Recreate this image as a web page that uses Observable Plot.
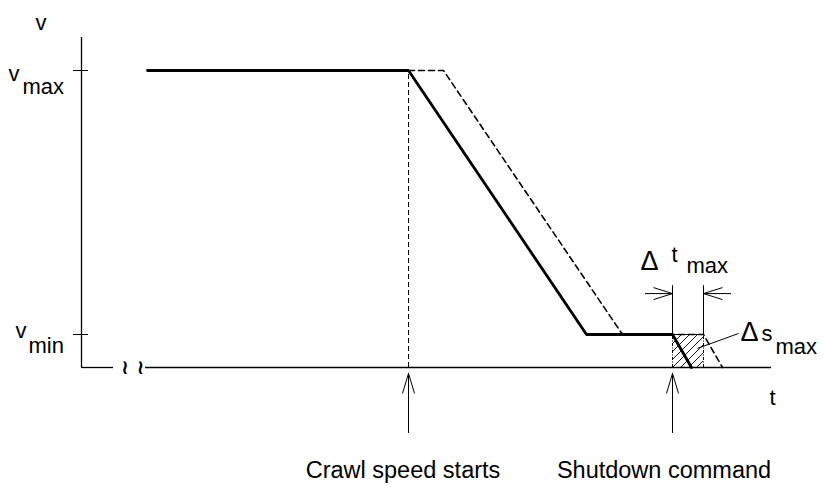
<!DOCTYPE html>
<html>
<head>
<meta charset="utf-8">
<script src="https://cdn.jsdelivr.net/npm/d3@7"></script>
<script src="https://cdn.jsdelivr.net/npm/@observablehq/plot@0.6"></script>
<style>
  html, body { margin: 0; padding: 0; background: #fff; color: #000; }
  svg { display: block; }
</style>
</head>
<body>
<div id="chart"></div>
<script>
// ---- data (abstract time / speed units) ----
const vMax = 90;
const vMin = 10;
const tCrawl = 65.4;       // crawl speed starts
const tShutdown = 118.2;   // shutdown command
const dtMax = 6.2;         // Δt max window

// actual (solid) speed profile
const actualT = [13.2, 65.4, 101, 118.2, 122];
const actualV = [vMax, vMax, vMin, vMin, 0];

// delayed (dashed) speed profile
const delayedT = [65.4, 72.4, 108.2, 124.4, 128.2];
const delayedV = [vMax, vMax, vMin, vMin, 0];

const yTickValues = [vMin, vMax];
const eventTimes = [tCrawl, tShutdown];
const eventLabels = ["Crawl speed starts", "Shutdown command"];

const actual = actualT.map((t, i) => ({t, v: actualV[i]}));
const delayed = delayedT.map((t, i) => ({t, v: delayedV[i]}));
const events = eventTimes.map((t, i) => ({t, label: eventLabels[i]}));

const font = "'Liberation Sans', Arial, Helvetica, sans-serif";
const fs = 22;

// open arrowhead (chevron) with its tip at the anchor point, pointing up
const chevron = (len, half) => ({
  draw(context) {
    context.moveTo(-half, len);
    context.lineTo(0, 0);
    context.lineTo(half, len);
  }
});
const headEvent = chevron(20, 6);
const headDt = chevron(19, 6);

const txt = (s, x, y, dx, dy, size = fs) =>
  Plot.text([s], {x: () => x, y: () => y, text: d => d, dx, dy, fontSize: size, textAnchor: "start", lineAnchor: "bottom"});

const chart = Plot.plot({
  width: 823,
  height: 489,
  marginLeft: 81,
  marginRight: 52,
  marginTop: 37,
  marginBottom: 122,
  x: {domain: [0, 138], axis: null},
  y: {domain: [0, 100], axis: null},
  style: {fontFamily: font, background: "white", color: "black"},
  marks: [
    // hatched Δs area
    Plot.rect([0], {x1: tShutdown, x2: tShutdown + dtMax, y1: 0, y2: vMin, fill: "url(#hatch)"}),
    Plot.ruleX([tShutdown, tShutdown + dtMax], {y1: 0, y2: vMin, stroke: "black", strokeWidth: 1, strokeDasharray: "3,1.5,1,1.5"}),
    Plot.ruleY([vMin], {x1: tShutdown, x2: tShutdown + dtMax, stroke: "black", strokeWidth: 1}),
    // axes
    Plot.ruleX([0], {y1: 0, y2: 100, stroke: "black", strokeWidth: 1.3}),
    Plot.ruleY([0], {x1: 0, x2: 6.4, stroke: "black", strokeWidth: 1.3}),
    Plot.ruleY([0], {x1: 12.8, x2: 138, stroke: "black", strokeWidth: 1.3}),
    Plot.text(["≀", "≀"], {x: (d, i) => [8.7, 11.8][i], y: 0, text: d => d, fontSize: 20, fontFamily: "DejaVu Sans", fontWeight: "bold"}),
    Plot.ruleY(yTickValues, {x1: -1.6, x2: 1.4, stroke: "black", strokeWidth: 1}),
    // crawl speed start marker
    Plot.ruleX([tCrawl], {y1: 0, y2: vMax, stroke: "black", strokeWidth: 1, strokeDasharray: "5,3"}),
    // delayed profile
    Plot.line(delayed, {x: "t", y: "v", stroke: "black", strokeWidth: 1.6, strokeDasharray: "6,4"}),
    // actual profile
    Plot.line(actual, {x: "t", y: "v", stroke: "black", strokeWidth: 2.8, strokeLinejoin: "miter"}),
    // Δt brackets
    Plot.ruleX([tShutdown, tShutdown + dtMax], {y1: vMin, y2: 24.8, stroke: "black", strokeWidth: 1}),
    Plot.ruleY([22.4], {x1: tShutdown - 5.4, x2: tShutdown, stroke: "black", strokeWidth: 1}),
    Plot.ruleY([22.4], {x1: tShutdown + dtMax, x2: tShutdown + dtMax + 5.6, stroke: "black", strokeWidth: 1}),
    Plot.dot([0], {x: () => tShutdown, y: () => 22.4, symbol: headDt, rotate: 90, fill: "none", stroke: "black", strokeWidth: 1}),
    Plot.dot([0], {x: () => tShutdown + dtMax, y: () => 22.4, symbol: headDt, rotate: -90, fill: "none", stroke: "black", strokeWidth: 1}),
    // Δs leader
    Plot.link([0], {x1: tShutdown + 5, y1: 5.8, x2: tShutdown + 13.2, y2: 10.3, stroke: "black", strokeWidth: 1}),
    // event arrows
    Plot.ruleX(events, {x: "t", y1: -20, y2: -1.8, stroke: "black", strokeWidth: 1}),
    Plot.dot(events, {x: "t", y: -1.8, symbol: headEvent, fill: "none", stroke: "black", strokeWidth: 1}),
    Plot.text([events[0]], {x: "t", y: 0, text: "label", dy: 110, dx: -5.5, fontSize: 23.5, lineAnchor: "bottom", textAnchor: "middle"}),
    Plot.text([events[1]], {x: "t", y: 0, text: "label", dy: 110, dx: -8.5, fontSize: 23.5, lineAnchor: "bottom", textAnchor: "middle"}),
    // axis labels
    txt("v", 0, 100, -46, -8),
    Plot.text(["t"], {x: () => 138, y: () => 0, text: d => d, dx: 1, dy: 37, fontSize: fs, textAnchor: "middle", lineAnchor: "bottom"}),
    txt("v", 0, vMax, -73, 10),
    txt("max", 0, vMax, -59, 23),
    txt("v", 0, vMin, -66, 3),
    txt("min", 0, vMin, -53, 18),
    // Δt max label
    txt("Δ", tShutdown, vMin, -32, -65, 27),
    txt("t", tShutdown, vMin, -1, -73),
    txt("max", tShutdown, vMin, 14, -62),
    // Δs max label
    txt("Δ", tShutdown + dtMax, 0, 37, -27, 27),
    txt("s", tShutdown + dtMax, 0, 58, -27),
    txt("max", tShutdown + dtMax, 0, 72, -14)
  ]
});

// hatch pattern definition
const defs = d3.select(chart).insert("defs", ":first-child");
const pat = defs.append("pattern")
  .attr("id", "hatch")
  .attr("patternUnits", "userSpaceOnUse")
  .attr("width", 8)
  .attr("height", 8);
pat.append("path")
  .attr("d", "M-2,2 L2,-2 M0,8 L8,0 M6,10 L10,6")
  .attr("stroke", "black")
  .attr("stroke-width", 0.9);

document.getElementById("chart").appendChild(chart);
</script>
</body>
</html>
